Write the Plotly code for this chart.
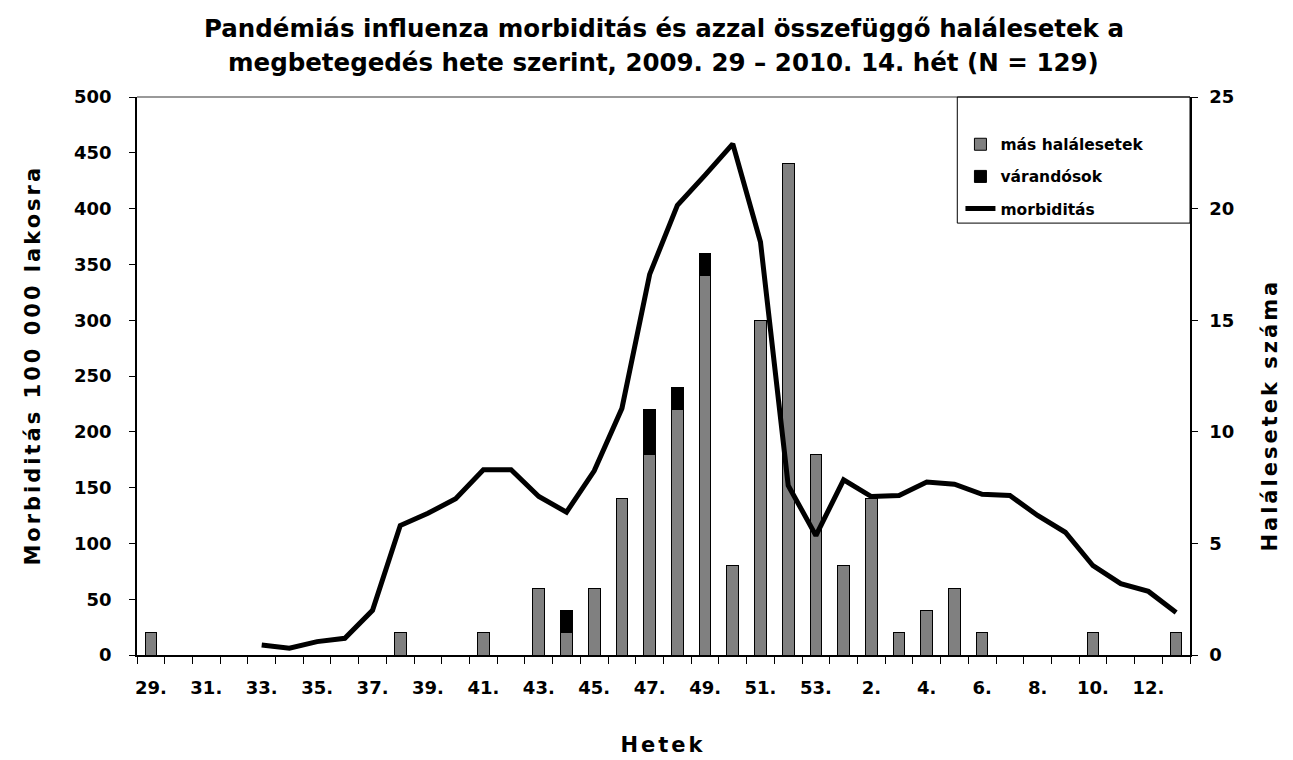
import plotly.graph_objects as go

# ---- data ----
weeks = [f"{w}." for w in list(range(29, 54)) + list(range(1, 14))]
tick_weeks = weeks[::2]
other_deaths = [1, 0, 0, 0, 0, 0, 0, 0, 0, 1, 0, 0, 1, 0, 3, 1, 3, 7, 9, 11, 17, 4, 15,
                22, 9, 4, 7, 1, 2, 3, 1, 0, 0, 0, 1, 0, 0, 1]
pregnant_deaths = [0, 0, 0, 0, 0, 0, 0, 0, 0, 0, 0, 0, 0, 0, 0, 1, 0, 0, 2, 1, 1, 0, 0,
                   0, 0, 0, 0, 0, 0, 0, 0, 0, 0, 0, 0, 0, 0, 0]
morbidity = [None, None, None, None, 9, 6, 12, 15, 40, 116, 127, 140, 166, 166, 142, 128,
             165, 221, 341, 403, 430, 458, 370, 152, 107, 157, 142, 143, 155, 153, 144,
             143, 125, 110, 80, 64, 57, 38]

x = list(range(len(weeks)))
tickvals = [x[weeks.index(w)] for w in tick_weeks]

FONT = "DejaVu Sans"
BLACK = "#000000"

fig = go.Figure()
fig.add_trace(go.Bar(
    x=x, y=other_deaths, name="más halálesetek", yaxis="y",
    marker=dict(color="#808080", line=dict(color=BLACK, width=1)),
    width=0.42, legendgroup="a"))
fig.add_trace(go.Bar(
    x=x, y=pregnant_deaths, name="várandósok", yaxis="y",
    marker=dict(color=BLACK, line=dict(color=BLACK, width=1)),
    width=0.42, legendgroup="b"))
fig.add_trace(go.Scatter(
    x=x, y=morbidity, name="morbiditás", yaxis="y2", mode="lines",
    line=dict(color=BLACK, width=5), connectgaps=False, legendgroup="c"))

tickfont = dict(family=FONT, size=18, color=BLACK, weight="bold")

fig.update_layout(
    width=1293, height=760,
    margin=dict(l=129, r=111, t=89, b=113),
    paper_bgcolor="white", plot_bgcolor="white",
    barmode="stack",
    showlegend=True,
    legend=dict(x=0.782, y=0.945, xanchor="left", yanchor="top",
                bgcolor="rgba(0,0,0,0)", borderwidth=0,
                font=dict(family=FONT, size=15.5, color=BLACK, weight="bold"),
                tracegroupgap=9, traceorder="grouped", itemwidth=30),
    xaxis=dict(range=[-0.5, len(weeks) - 0.5], tickmode="array",
               tickvals=tickvals, ticktext=tick_weeks, ticks="",
               showline=True, linecolor=BLACK, linewidth=1.5,
               showgrid=False, zeroline=False, tickfont=tickfont,
               ticklabelstandoff=16,
               minor=dict(tickvals=[i - 0.5 for i in range(len(weeks) + 1)],
                          ticks="outside", ticklen=7, tickcolor=BLACK, tickwidth=1,
                          showgrid=False)),
    yaxis=dict(range=[0, 25], dtick=5, side="right", ticks="outside", ticklen=6,
               tickcolor=BLACK, showline=True, linecolor=BLACK, linewidth=1.5,
               showgrid=False, zeroline=False, tickfont=tickfont,
               ticklabelstandoff=8),
    yaxis2=dict(range=[0, 500], dtick=50, side="left", overlaying="y",
                ticks="outside", ticklen=6, tickcolor=BLACK, showline=True,
                linecolor=BLACK, linewidth=1.5, showgrid=False, zeroline=False,
                tickfont=tickfont, ticklabelstandoff=14),
    shapes=[
        dict(type="line", xref="paper", yref="paper", x0=0, x1=1, y0=1, y1=1,
             line=dict(color="#999999", width=2)),
        dict(type="rect", xref="paper", yref="paper", x0=0.779, x1=1.0,
             y0=0.774, y1=1.0, line=dict(color=BLACK, width=1)),
    ],
    annotations=[
        dict(text="Pandémiás influenza morbiditás és azzal összefüggő halálesetek a",
             xref="paper", yref="paper", x=0.5, y=1.122, showarrow=False,
             xanchor="center", yanchor="middle",
             font=dict(family=FONT, size=24.5, color=BLACK, weight="bold")),
        dict(text="megbetegedés hete szerint, 2009. 29 – 2010. 14. hét (N = 129)",
             xref="paper", yref="paper", x=0.5, y=1.062, showarrow=False,
             xanchor="center", yanchor="middle",
             font=dict(family=FONT, size=24.5, color=BLACK, weight="bold")),
        dict(text="Hetek", xref="paper", yref="paper", x=0.5, y=-0.162,
             showarrow=False, xanchor="center", yanchor="middle",
             font=dict(family=FONT, size=21, color=BLACK, weight="bold")),
        dict(text="Morbiditás 100 000 lakosra", xref="paper", yref="paper",
             x=-0.099, y=0.52, showarrow=False, textangle=-90,
             xanchor="center", yanchor="middle",
             font=dict(family=FONT, size=21, color=BLACK, weight="bold")),
        dict(text="Halálesetek száma", xref="paper", yref="paper",
             x=1.076, y=0.43, showarrow=False, textangle=-90,
             xanchor="center", yanchor="middle",
             font=dict(family=FONT, size=21, color=BLACK, weight="bold")),
    ],
)

post = """
var s = document.createElement('style');
s.textContent = 'g.annotation[data-index="2"] text, g.annotation[data-index="3"] text, g.annotation[data-index="4"] text {letter-spacing: 3px;}';
document.head.appendChild(s);
"""

fig.write_html("out.html", post_script=post)
